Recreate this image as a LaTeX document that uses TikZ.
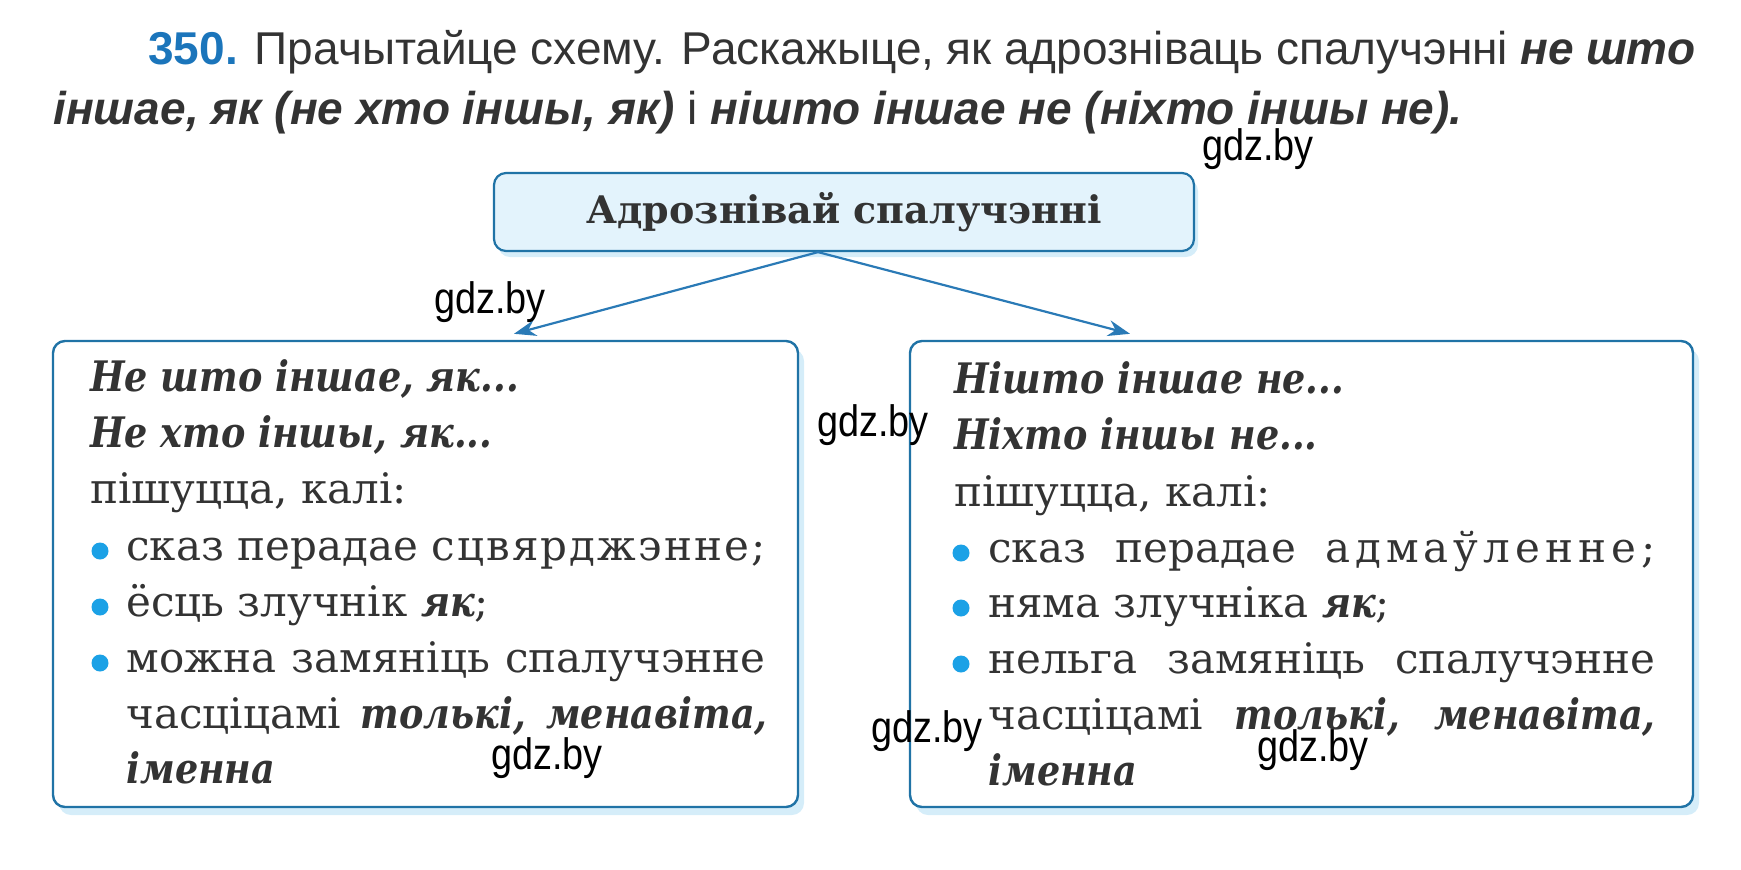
\documentclass[tikz,border=0pt]{standalone}
\usepackage{fontspec}
\setmainfont{DejaVu Serif}
\newfontfamily\headfont{Liberation Sans}
\newfontfamily\narrowserif[FakeStretch=0.87]{DejaVu Serif}
\usepackage{xcolor}
\usetikzlibrary{arrows.meta,shadows}
\definecolor{ink}{HTML}{333333}
\definecolor{numblue}{HTML}{1B75BB}
\definecolor{edgeblue}{HTML}{2073A6}
\definecolor{paleblue}{HTML}{E3F3FC}
\definecolor{dotblue}{HTML}{1BA1E6}
\definecolor{arrowblue}{HTML}{2A7AB6}
\definecolor{shadowblue}{HTML}{CBE8F8}
\newcommand\boxtext{\fontsize{21}{28}\selectfont}
\newcommand\spread[1]{\addfontfeature{LetterSpace=#1}}
\newcommand\bi[1]{{\narrowserif\bfseries\itshape #1}}
\newcommand\hbi[1]{\textbf{\textit{#1}}}
\newcommand\wmark{\scalebox{0.86}[1]{gdz.by}}

\begin{document}
\begin{tikzpicture}[x=0.5pt,y=-0.5pt,
  head/.style={anchor=base west, inner sep=0pt, text=ink, font=\headfont\fontsize{23}{27}\selectfont},
  topbox/.style={draw=edgeblue, line width=1.1pt, fill=paleblue, rounded corners=6pt,
    minimum width=350pt, minimum height=39pt, text=ink, font=\fontsize{19}{22}\selectfont\bfseries,
    drop shadow={shadow xshift=2pt, shadow yshift=-3pt, fill=shadowblue, opacity=0.8}},
  card/.style={draw=edgeblue, line width=1.2pt, fill=white, rounded corners=6pt,
    drop shadow={shadow xshift=3pt, shadow yshift=-4pt, fill=shadowblue, opacity=0.8}},
  line/.style={anchor=base west, inner sep=0pt, text=ink, font=\boxtext},
  dot/.style={circle, fill=dotblue, inner sep=0pt, minimum size=8.5pt},
  wm/.style={inner sep=0pt, text=black, font=\headfont\fontsize{22}{26}\selectfont},
  arr/.style={draw=arrowblue, line width=1.1pt, -{Stealth[length=11pt,width=8pt]}}]
\useasboundingbox (0,0) rectangle (1741,869);

% task heading
\node[head] (h1) at (148,64) {\makebox[773.5pt][s]{\textcolor{numblue}{\textbf{350.}} Прачытайце схему. Раскажыце, як адрозніваць спалучэнні \hbi{не што}}};
\node[head] (h2) at (53,124) {\hbi{іншае, як (не хто іншы, як)} і \hbi{нішто іншае не (ніхто іншы не).}};

% boxes
\node[topbox] (title) at (844,212) {Адрознівай спалучэнні};
\node[card, minimum width=372.5pt, minimum height=233pt] (leftbox) at (425.5,574) {};
\node[card, minimum width=391.5pt, minimum height=233pt] (rightbox) at (1301.5,574) {};

\draw[arr] ([xshift=-13pt]title.south) -- ([xshift=44.25pt,yshift=3pt]leftbox.north);
\draw[arr] ([xshift=-13pt]title.south) -- ([xshift=-85.75pt,yshift=3pt]rightbox.north);

% left box text
\node[line] (l1) at (90,391) {\bi{Не што іншае, як...}};
\node[line] (l2) at (90,447) {\bi{Не хто іншы, як...}};
\node[line] (l3) at (90,503) {пішуцца, калі:};
\node[line] (l4) at (126,560) {\makebox[319.5pt][s]{сказ перадае {\spread{5}сцвярджэнне;}}};
\node[line] (l5) at (126,616) {ёсць злучнік \bi{як};};
\node[line] (l6) at (126,672) {\makebox[319.5pt][s]{можна замяніць спалучэнне}};
\node[line] (l7) at (126,728) {\makebox[320.5pt][s]{часціцамі \bi{толькі, менавіта,}}};
\node[line] (l8) at (126,783) {\bi{іменна}};
\foreach \y [count=\i] in {560,616,672}
  \node[dot] (ld\i) at (100,\y-9) {};

% right box text
\node[line] (r1) at (954,393) {\bi{Нішто іншае не...}};
\node[line] (r2) at (954,449) {\bi{Ніхто іншы не...}};
\node[line] (r3) at (954,506) {пішуцца, калі:};
\node[line] (r4) at (988,562) {\makebox[333.5pt][s]{сказ перадае {\spread{12}адмаўленне;}}};
\node[line] (r5) at (988,617) {няма злучніка \bi{як};};
\node[line] (r6) at (988,673) {\makebox[333.5pt][s]{нельга замяніць спалучэнне}};
\node[line] (r7) at (988,729) {\makebox[333.5pt][s]{часціцамі \bi{толькі, менавіта,}}};
\node[line] (r8) at (988,785) {\bi{іменна}};
\foreach \y [count=\i] in {562,617,673}
  \node[dot] (rd\i) at (961,\y-9) {};

% watermarks
\node[wm] (w1) at (1258,149) {\wmark};
\node[wm] (w2) at (490,302) {\wmark};
\node[wm] (w3) at (873,425) {\wmark};
\node[wm] (w4) at (927,731) {\wmark};
\node[wm] (w5) at (1313,750) {\wmark};
\node[wm] (w6) at (547,758) {\wmark};
\end{tikzpicture}
\end{document}
